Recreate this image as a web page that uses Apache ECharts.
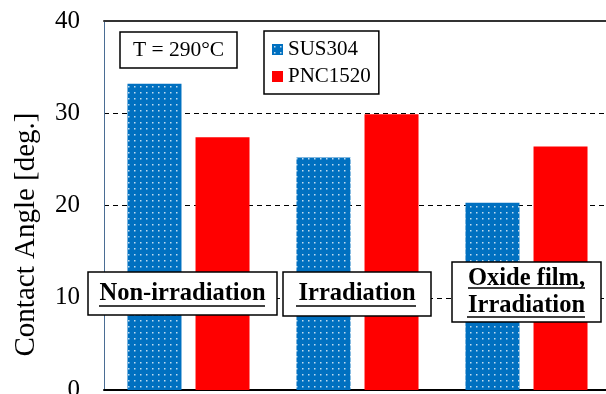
<!DOCTYPE html>
<html>
<head>
<meta charset="utf-8">
<script src="https://cdn.jsdelivr.net/npm/echarts@6/dist/echarts.min.js"></script>
<style>
  html, body { margin: 0; padding: 0; background: #fff; }
  #main { width: 606px; height: 394px; }
</style>
</head>
<body>
<div id="main"></div>
<script>
// data
var categories = ['Non-irradiation', 'Irradiation', 'Oxide film, Irradiation'];
var sus304 = [33.2, 25.2, 20.3];
var pnc1520 = [27.4, 29.9, 26.4];
var yTicks = { min: 0, max: 40, interval: 10 };

var FONT = 'Liberation Serif';

// dotted blue fill like the original
var pat = document.createElement('canvas');
pat.width = 6; pat.height = 6;
var pctx = pat.getContext('2d');
pctx.fillStyle = '#0070C0';
pctx.fillRect(0, 0, 6, 6);
pctx.fillStyle = 'rgba(255,255,255,0.75)';
pctx.fillRect(2, 2, 1.5, 1.5);

var myChart = echarts.init(document.getElementById('main'));

// boxed, bold, underlined labels over the bars
function box(x, y, w, h) {
    return {
        type: 'rect', z: 100,
        shape: { x: x, y: y, width: w, height: h },
        style: { fill: '#fff', stroke: '#000', lineWidth: 1.5 }
    };
}
function txt(cx, cy, t, font) {
    return {
        type: 'text', z: 101,
        x: cx, y: cy,
        style: {
            text: t, fill: '#000', font: font,
            align: 'center', verticalAlign: 'middle'
        }
    };
}
function underline(x1, x2, y) {
    return {
        type: 'line', z: 101,
        shape: { x1: x1, y1: y, x2: x2, y2: y },
        style: { stroke: '#000', lineWidth: 1.5 }
    };
}
var BOLD = 'bold 24.5px "' + FONT + '"';

option = {
    animation: false,
    backgroundColor: '#fff',
    grid: { left: 104, right: -5, top: 21, bottom: 4, outerBoundsMode: 'none' },
    legend: {
        orient: 'vertical',
        left: 264, top: 31,
        padding: [8, 8, 7, 8],
        itemWidth: 11, itemHeight: 11, itemGap: 6,
        borderColor: '#000', borderWidth: 1.5,
        icon: 'rect',
        textStyle: { fontFamily: FONT, fontSize: 21, color: '#000', padding: [2, 0, 0, 0] },
        data: ['SUS304', 'PNC1520']
    },
    xAxis: [{
        type: 'category',
        data: categories,
        axisLine: { lineStyle: { color: '#000', width: 2 } },
        axisTick: { show: false },
        axisLabel: { show: false }
    }, {
        type: 'category',
        position: 'top',
        data: categories,
        axisLine: { lineStyle: { color: '#333', width: 2 } },
        axisTick: { show: false },
        axisLabel: { show: false }
    }],
    yAxis: {
        type: 'value',
        min: yTicks.min, max: yTicks.max, interval: yTicks.interval,
        name: 'Contact Angle [deg.]',
        nameLocation: 'middle',
        nameGap: 63,
        nameTextStyle: { fontFamily: FONT, fontSize: 29, color: '#000', padding: [0, 58, 0, 0] },
        axisLine: { show: true, lineStyle: { color: '#4a6d94', width: 1 } },
        axisTick: { show: false },
        axisLabel: { fontFamily: FONT, fontSize: 25, color: '#000', margin: 24 },
        splitLine: { lineStyle: { color: '#000', type: [5, 4], width: 1.2 } }
    },
    series: [{
        name: 'SUS304',
        type: 'bar',
        data: sus304,
        barWidth: 54,
        barGap: '26%',
        itemStyle: { color: { image: pat, repeat: 'repeat' } }
    }, {
        name: 'PNC1520',
        type: 'bar',
        data: pnc1520,
        barWidth: 54,
        itemStyle: { color: '#FF0000' }
    }],
    graphic: [
        box(120, 32, 117, 36),
        txt(178.5, 50.5, 'T = 290\u00B0C', '21.5px "' + FONT + '"'),
        box(88, 272, 189, 43),
        txt(182.5, 294, 'Non-irradiation', BOLD),
        underline(99, 265, 306),
        box(283, 272, 148, 44),
        txt(357, 294, 'Irradiation', BOLD),
        underline(296, 416, 306),
        box(452, 262, 149, 60),
        txt(526.5, 278.5, 'Oxide film,', BOLD),
        underline(468, 585, 288),
        txt(526.5, 306, 'Irradiation', BOLD),
        underline(467, 585, 317)
    ]
};
myChart.setOption(option);
</script>
</body>
</html>
